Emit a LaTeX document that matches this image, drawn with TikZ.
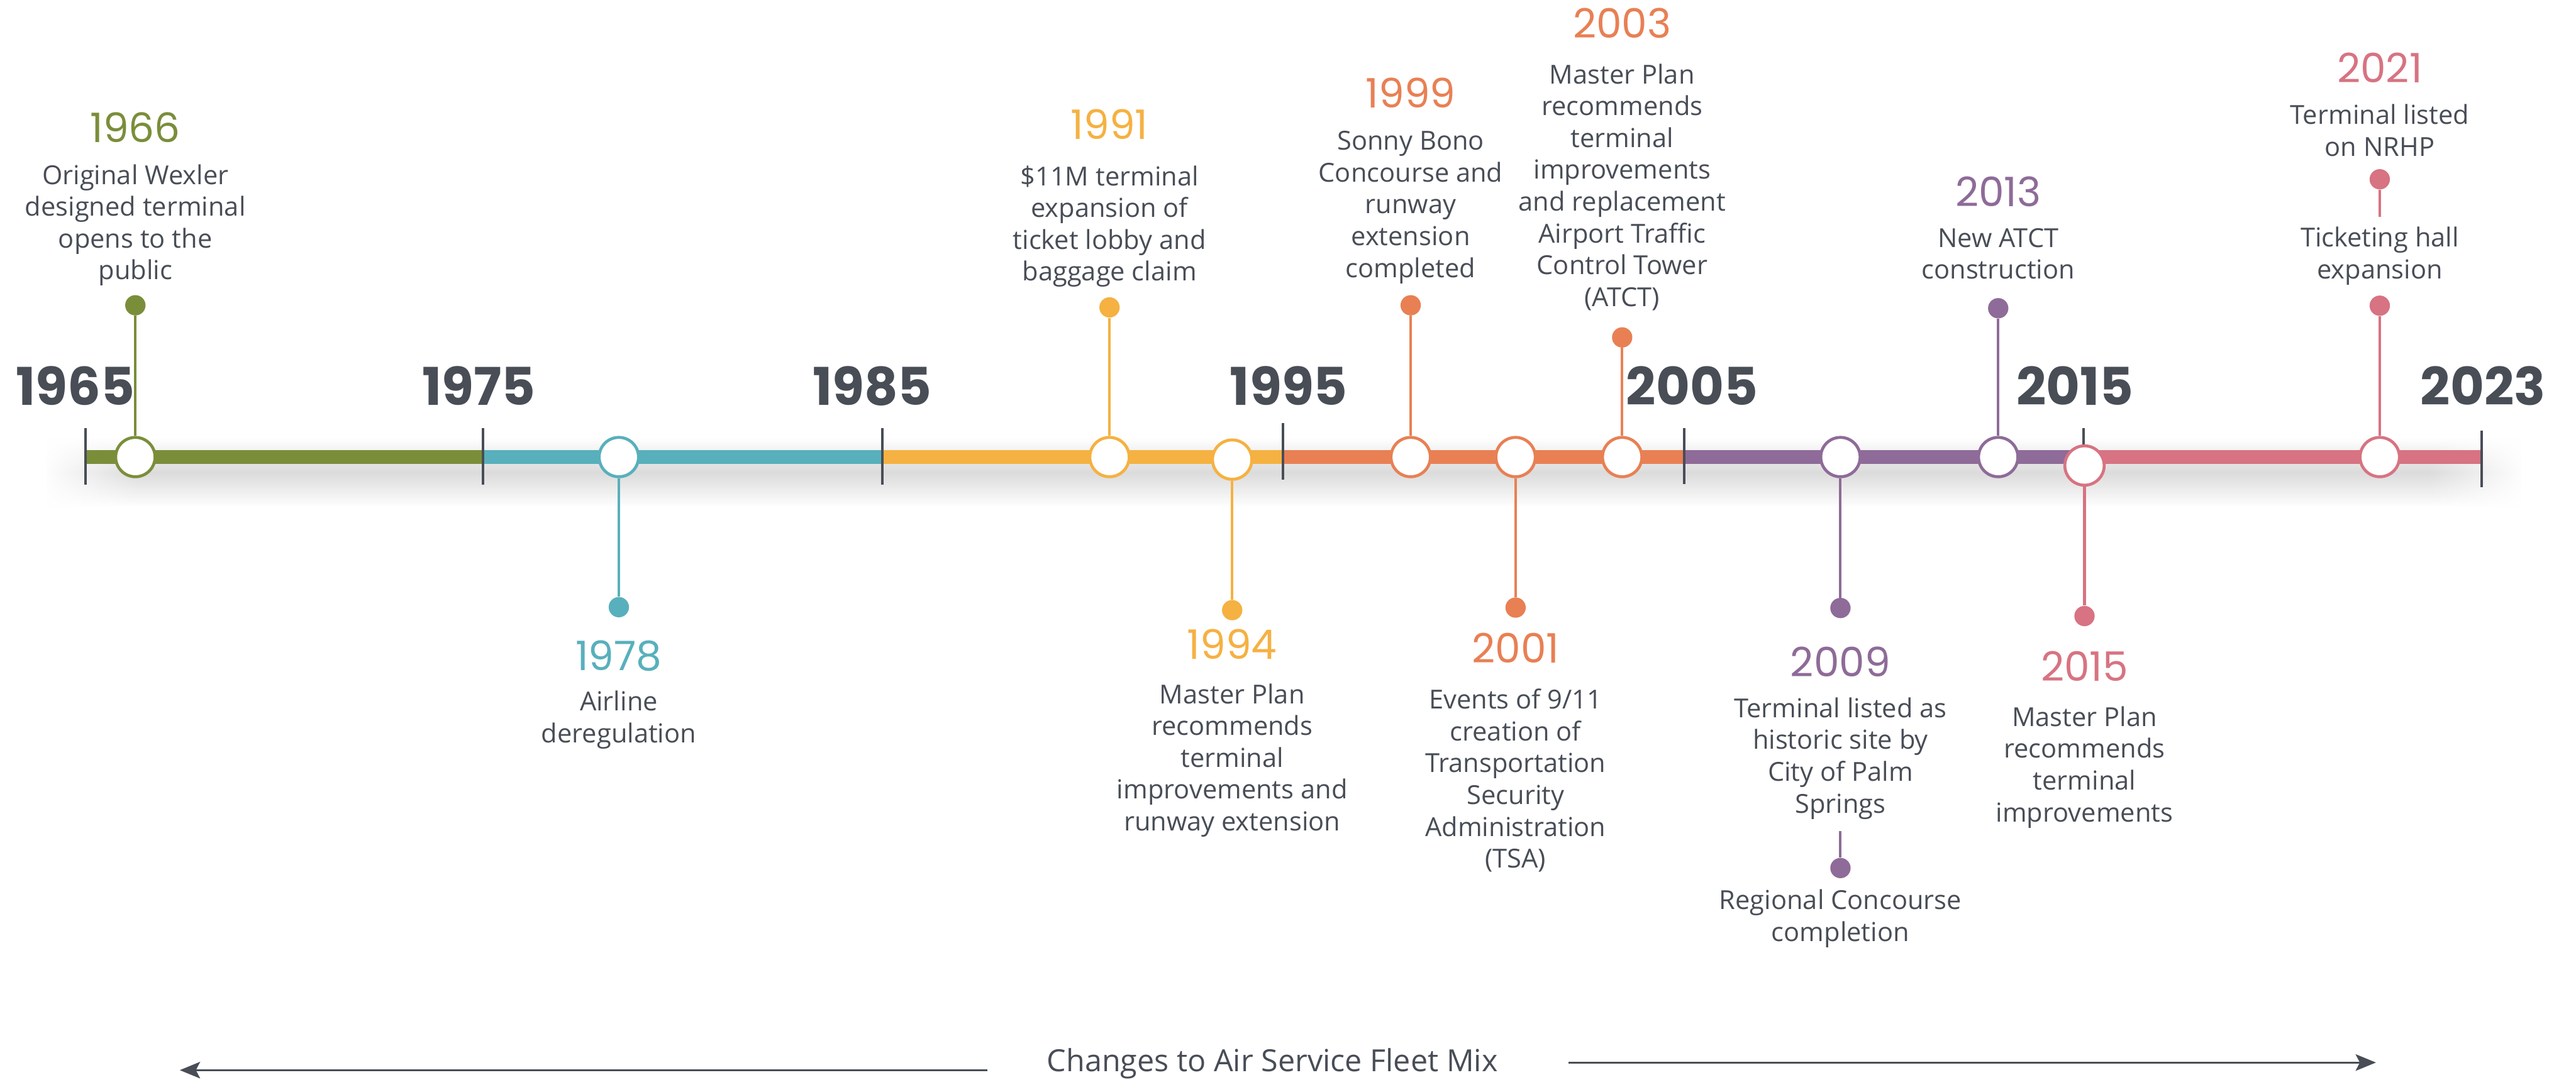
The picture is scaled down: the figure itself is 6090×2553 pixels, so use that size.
\documentclass[tikz,border=0pt]{standalone}
\usepackage{fontspec}
\setmainfont{Open Sans}
\newfontfamily\yearfont{Poppins}
\newfontfamily\decadefont{Poppins}
\usetikzlibrary{arrows.meta,fadings}

\definecolor{ink}{HTML}{484D56}
\definecolor{cGreen}{HTML}{7A8E3A}
\definecolor{cTeal}{HTML}{58B0BC}
\definecolor{cGold}{HTML}{F5B142}
\definecolor{cOrange}{HTML}{E88054}
\definecolor{cPurple}{HTML}{8E6B98}
\definecolor{cRose}{HTML}{D77382}

\tikzfading[name=fadeleftend, left color=transparent!0, right color=transparent!100]
\tikzfading[name=faderightend, left color=transparent!100, right color=transparent!0]

% invisible strut that fixes the top of every description block
\newcommand\firstline{\rule{0pt}{0.7cm}}

\begin{document}
\begin{tikzpicture}[x=0.01cm, y=-0.01cm,
  barseg/.style={line width=0.32cm},
  decadetick/.style={ink, line width=0.06cm},
  evring/.style={circle, draw=#1, fill=white, line width=0.07cm, minimum size=0.93cm, inner sep=0pt},
  evdot/.style={circle, fill=#1, minimum size=0.48cm, inner sep=0pt},
  evstem/.style={#1, line width=0.06cm},
  yearlbl/.style={text=#1, anchor=base, inner sep=0pt, font=\yearfont\fontsize{27.3}{32}\selectfont},
  desc/.style={text=ink, align=center, anchor=north, inner sep=0pt, font=\fontsize{17.6}{21.4}\selectfont},
  decade/.style={text=ink, anchor=base, inner sep=0pt, font=\decadefont\bfseries\fontsize{35}{40}\selectfont},
  fleet/.style={text=ink, anchor=base, inner sep=0pt, font=\fontsize{20.5}{24}\selectfont},
  fleetarrow/.style={ink, line width=0.05cm, -{Stealth[length=4.8mm, width=3.9mm, inset=1mm]}}
]
\useasboundingbox (0,0) rectangle (6090,2553);

% soft shadow under the time bar
\shade[top color=white, bottom color=white, middle color=black!14] (110,1035) rectangle (5960,1200);
\fill[white, path fading=fadeleftend] (100,1030) rectangle (330,1205);
\fill[white, path fading=faderightend] (5740,1030) rectangle (5970,1205);

% time bar, one colour per decade
\draw[barseg, cGreen]  (202,1081)  -- (1142,1081);
\draw[barseg, cTeal]   (1142,1081) -- (2086,1081);
\draw[barseg, cGold]   (2086,1081) -- (3033,1081);
\draw[barseg, cOrange] (3033,1081) -- (3981,1081);
\draw[barseg, cPurple] (3981,1081) -- (4926,1081);
\draw[barseg, cRose]   (4926,1081) -- (5867,1081);

% decade ticks
\draw[decadetick] (202,1012)  -- (202,1147);
\draw[decadetick] (1142,1012) -- (1142,1147);
\draw[decadetick] (2086,1012) -- (2086,1147);
\draw[decadetick] (3033,1000) -- (3033,1135);
\draw[decadetick] (3981,1012) -- (3981,1145);
\draw[decadetick] (4926,1012) -- (4926,1140);
\draw[decadetick] (5867,1019) -- (5867,1152);

% decade labels
\node[decade] (k1965) at (178,958)  {1965};
\node[decade] (k1975) at (1132,958) {1975};
\node[decade] (k1985) at (2062,958) {1985};
\node[decade] (k1995) at (3047,958) {1995};
\node[decade] (k2005) at (4000,958) {2005};
\node[decade] (k2015) at (4906,958) {2015};
\node[decade] (k2023) at (5870,958) {2023};

% ---- events above the bar ----
% 1966
\node[evring=cGreen] (r1966) at (320,1081) {};
\node[evdot=cGreen]  (d1966) at (320,722) {};
\draw[evstem=cGreen] (d1966) -- (r1966);
\node[yearlbl=cGreen] (y1966) at (320,337) {1966};
\node[desc] (t1966) at (320,365) {\firstline Original Wexler\\designed terminal\\opens to the\\public};

% 1991
\node[evring=cGold] (r1991) at (2623,1081) {};
\node[evdot=cGold]  (d1991) at (2623,727) {};
\draw[evstem=cGold] (d1991) -- (r1991);
\node[yearlbl=cGold] (y1991) at (2623,329) {1991};
\node[desc] (t1991) at (2623,368) {\firstline \$11M terminal\\expansion of\\ticket lobby and\\baggage claim};

% 1999
\node[evring=cOrange] (r1999) at (3335,1081) {};
\node[evdot=cOrange]  (d1999) at (3335,722) {};
\draw[evstem=cOrange] (d1999) -- (r1999);
\node[yearlbl=cOrange] (y1999) at (3335,255) {1999};
\node[desc] (t1999) at (3335,284) {\firstline Sonny Bono\\Concourse and\\runway\\extension\\completed};

% 2003
\node[evring=cOrange] (r2003) at (3835,1081) {};
\node[evdot=cOrange]  (d2003) at (3835,798) {};
\draw[evstem=cOrange] (d2003) -- (r2003);
\node[yearlbl=cOrange] (y2003) at (3835,90) {2003};
\node[desc] (t2003) at (3835,127) {\firstline Master Plan\\recommends\\terminal\\improvements\\and replacement\\Airport Traffic\\Control Tower\\(ATCT)};

% 2013
\node[evring=cPurple] (r2013) at (4724,1081) {};
\node[evdot=cPurple]  (d2013) at (4724,729) {};
\draw[evstem=cPurple] (d2013) -- (r2013);
\node[yearlbl=cPurple] (y2013) at (4724,489) {2013};
\node[desc] (t2013) at (4724,514) {\firstline New ATCT\\construction};

% 2021
\node[evring=cRose] (r2021) at (5626,1081) {};
\node[evdot=cRose]  (d2021) at (5626,723) {};
\draw[evstem=cRose] (d2021) -- (r2021);
\node[evdot=cRose]  (d2021a) at (5626,424) {};
\coordinate (e2021a) at (5626,513);
\draw[evstem=cRose] (d2021a) -- (e2021a);
\node[yearlbl=cRose] (y2021) at (5626,196) {2021};
\node[desc] (t2021a) at (5626,223) {\firstline Terminal listed\\on NRHP};
\node[desc] (t2021b) at (5626,513) {\firstline Ticketing hall\\expansion};

% ---- events below the bar ----
% 1978
\node[evring=cTeal] (r1978) at (1463,1081) {};
\node[evdot=cTeal]  (d1978) at (1463,1436) {};
\draw[evstem=cTeal] (r1978) -- (d1978);
\node[yearlbl=cTeal] (y1978) at (1463,1585) {1978};
\node[desc] (t1978) at (1463,1610) {\firstline Airline\\deregulation};

% 1994
\node[evring=cGold] (r1994) at (2913,1087) {};
\node[evdot=cGold]  (d1994) at (2913,1443) {};
\draw[evstem=cGold] (r1994) -- (d1994);
\node[yearlbl=cGold] (y1994) at (2913,1559) {1994};
\node[desc] (t1994) at (2913,1593) {\firstline Master Plan\\recommends\\terminal\\improvements and\\runway extension};

% 2001
\node[evring=cOrange] (r2001) at (3583,1081) {};
\node[evdot=cOrange]  (d2001) at (3583,1437) {};
\draw[evstem=cOrange] (r2001) -- (d2001);
\node[yearlbl=cOrange] (y2001) at (3583,1568) {2001};
\node[desc] (t2001) at (3583,1606) {\firstline Events of 9/11\\creation of\\Transportation\\Security\\Administration\\(TSA)};

% 2009
\node[evring=cPurple] (r2009) at (4351,1081) {};
\node[evdot=cPurple]  (d2009) at (4351,1438) {};
\draw[evstem=cPurple] (r2009) -- (d2009);
\node[yearlbl=cPurple] (y2009) at (4351,1601) {2009};
\node[desc] (t2009a) at (4351,1626) {\firstline Terminal listed as\\historic site by\\City of Palm\\Springs};
\coordinate (e2009b) at (4351,1966);
\node[evdot=cPurple] (d2009b) at (4351,2053) {};
\draw[evstem=cPurple] (e2009b) -- (d2009b);
\node[desc] (t2009b) at (4351,2080) {\firstline Regional Concourse\\completion};

% 2015
\node[evring=cRose] (r2015) at (4928,1101) {};
\node[evdot=cRose]  (d2015) at (4928,1457) {};
\draw[evstem=cRose] (r2015) -- (d2015);
\node[yearlbl=cRose] (y2015) at (4928,1611) {2015};
\node[desc] (t2015) at (4928,1647) {\firstline Master Plan\\recommends\\terminal\\improvements};

% ---- fleet mix span ----
\node[fleet] (fleetlbl) at (3008,2534) {Changes to Air Service Fleet Mix};
\coordinate (fleetL0) at (2335,2531);
\coordinate (fleetL1) at (425,2531);
\coordinate (fleetR0) at (3708,2513);
\coordinate (fleetR1) at (5617,2513);
\draw[fleetarrow] (fleetL0) -- (fleetL1);
\draw[fleetarrow] (fleetR0) -- (fleetR1);
\end{tikzpicture}
\end{document}
